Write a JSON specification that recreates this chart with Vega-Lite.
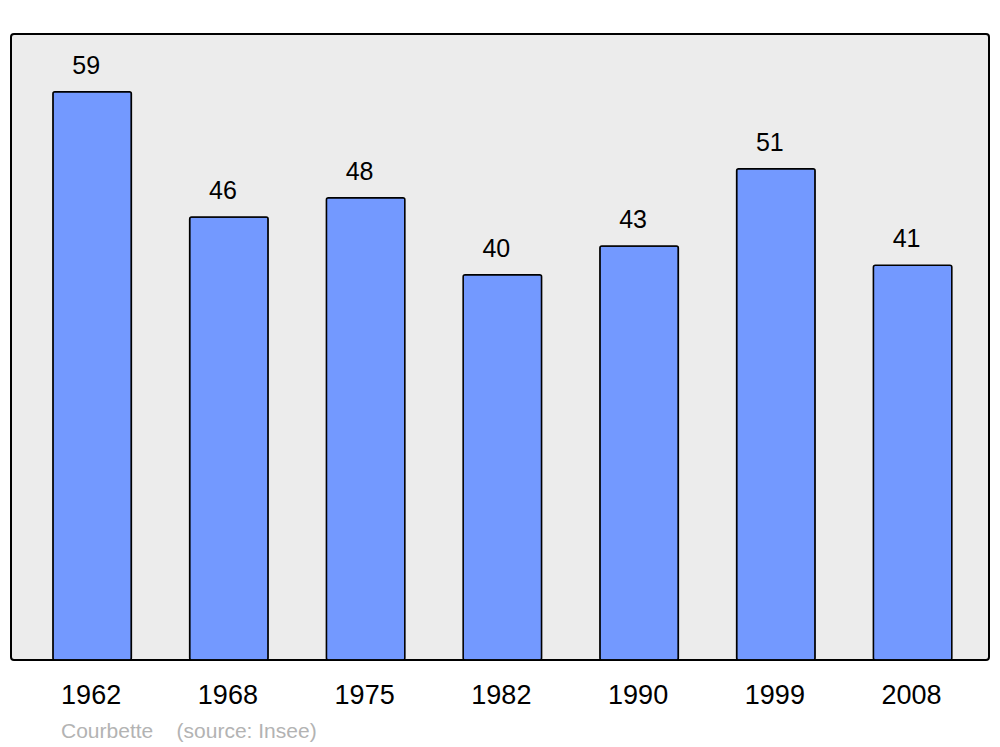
{
  "$schema": "https://vega.github.io/schema/vega-lite/v6.json",
  "width": 978,
  "height": 626,
  "autosize": "none",
  "padding": {"left": 11, "top": 34, "right": 11, "bottom": 87},
  "background": "white",
  "config": {
    "font": "Liberation Sans",
    "view": {"fill": "#ececec", "stroke": "#000000", "strokeWidth": 2, "cornerRadius": 3}
  },
  "title": {
    "text": "Courbette\u00a0\u00a0\u00a0\u00a0(source: Insee)",
    "orient": "bottom",
    "anchor": "start",
    "dx": 50,
    "offset": 13,
    "fontSize": 21,
    "fontWeight": "normal",
    "color": "#b3b3b3",
    "font": "Liberation Sans"
  },
  "data": {
    "values": [
      {"year": "1962", "pop": 59},
      {"year": "1968", "pop": 46},
      {"year": "1975", "pop": 48},
      {"year": "1982", "pop": 40},
      {"year": "1990", "pop": 43},
      {"year": "1999", "pop": 51},
      {"year": "2008", "pop": 41}
    ]
  },
  "encoding": {
    "x": {
      "field": "year",
      "type": "ordinal",
      "sort": null,
      "scale": {"paddingInner": 0.426, "paddingOuter": 0.289, "align": 0.53},
      "axis": {
        "title": null,
        "domain": false,
        "ticks": false,
        "labelAngle": 0,
        "labelFontSize": 27,
        "labelColor": "#000000",
        "labelPadding": 22,
        "labelOffset": -1,
        "labelFont": "Liberation Sans"
      }
    },
    "y": {
      "field": "pop",
      "type": "quantitative",
      "scale": {"domain": [0, 65], "nice": false},
      "axis": null
    }
  },
  "layer": [
    {
      "mark": {"type": "bar", "fill": "#7399ff", "stroke": "#000000", "strokeWidth": 1.5, "cornerRadius": 2}
    },
    {
      "mark": {"type": "text", "fontSize": 25, "color": "#000000", "baseline": "alphabetic", "align": "center", "dy": -18, "dx": -6},
      "encoding": {"text": {"field": "pop", "type": "quantitative"}}
    }
  ]
}
